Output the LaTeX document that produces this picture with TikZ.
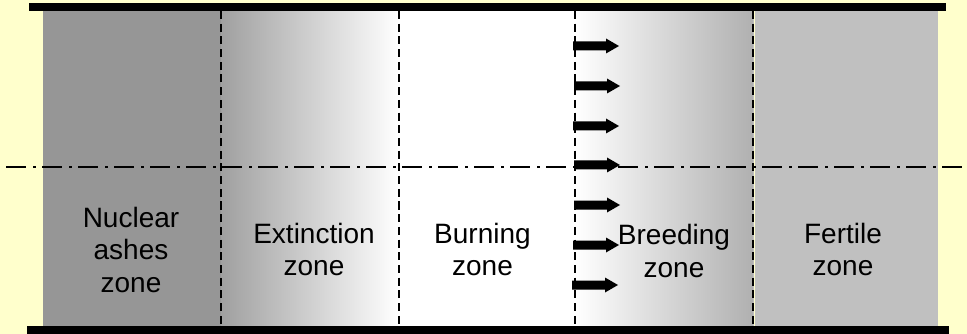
\documentclass[tikz,border=0pt]{standalone}
\usepackage{fontspec}
\setmainfont{Liberation Sans}
\definecolor{bgyellow}{HTML}{FFFFCC}
\definecolor{ashgray}{HTML}{969696}
\definecolor{extgray}{HTML}{A0A0A0}
\definecolor{breedgray}{HTML}{B0B0B0}
\definecolor{fertgray}{HTML}{C0C0C0}
\tikzset{
  zonesep/.style={line width=2pt, dash pattern=on 8pt off 4.7pt},
  axisline/.style={line width=2.2pt, dash pattern=on 20pt off 7pt on 3pt off 6pt},
  bar/.style={fill=black},
  zonelabel/.style={font=\fontsize{28}{32.5}\selectfont, align=center, inner sep=0pt, anchor=center},
  blockarrow/.pic={\fill[black] (0,-4.5) -- (33,-4.5) -- (33,-7.5) -- (46,0) -- (33,7.5) -- (33,4.5) -- (0,4.5) -- cycle;}
}
\begin{document}
\begin{tikzpicture}[x=1pt,y=-1pt]
\useasboundingbox (0,0) rectangle (967,334);
\fill[bgyellow] (0,0) rectangle (967,334);
% zones
\fill[ashgray] (43,11) rectangle (221,326);
\shade[left color=extgray, right color=white] (221,11) rectangle (399,326);
\fill[white] (399,11) rectangle (575,326);
\shade[left color=white, right color=breedgray] (575,11) rectangle (753,326);
\fill[fertgray] (753,11) rectangle (938,326);
\draw[bgyellow, line width=1pt] (754.5,11) -- (754.5,326);
% separators
\coordinate (s1t) at (221,11); \coordinate (s1b) at (221,326);
\coordinate (s2t) at (399,11); \coordinate (s2b) at (399,326);
\coordinate (s3t) at (575,11); \coordinate (s3b) at (575,326);
\coordinate (s4t) at (752.5,11); \coordinate (s4b) at (752.5,326);
\draw[zonesep] (s1t) -- (s1b);
\draw[zonesep] (s2t) -- (s2b);
\draw[zonesep] (s3t) -- (s3b);
\draw[zonesep] (s4t) -- (s4b);
% axis
\coordinate (axl) at (6,167); \coordinate (axr) at (964,167);
\draw[axisline] (axl) -- (axr);
% arrows
\foreach \yy/\xx in {46/573,86/574,126/573,165/574,205/574,245/573,285/572}
  \pic at (\xx,\yy) {blockarrow};
% labels
\node[zonelabel] (ash) at (131,249.5) {Nuclear\\ashes\\zone};
\node[zonelabel] (ext) at (314,249.5) {Extinction\\zone};
\node[zonelabel] (burn) at (482.5,249.5) {Burning\\zone};
\node[zonelabel] (breed) at (674,251) {Breeding\\zone};
\node[zonelabel] (fert) at (843,249.5) {Fertile\\zone};
% thick bars
\fill[bar] (29,3) rectangle (946,11);
\fill[bar] (27,326) rectangle (949,334);
\end{tikzpicture}
\end{document}
